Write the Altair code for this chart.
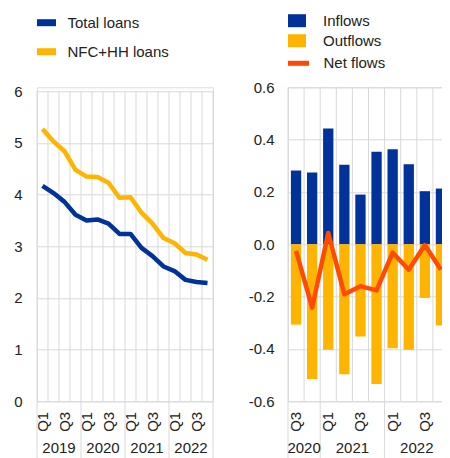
import altair as alt
import pandas as pd

FONT = "Liberation Sans"
GRID = "#d9d9d9"
TXT = "#222222"
BLUE = "#003299"
YELLOW = "#ffb400"
ORANGE = "#ff4b00"

# ---------------- data ----------------
left_periods = ["2019Q1", "2019Q2", "2019Q3", "2019Q4",
                "2020Q1", "2020Q2", "2020Q3", "2020Q4",
                "2021Q1", "2021Q2", "2021Q3", "2021Q4",
                "2022Q1", "2022Q2", "2022Q3", "2022Q4"]
total_loans = [4.17, 4.03, 3.86, 3.61, 3.50, 3.52, 3.44, 3.24,
               3.24, 2.97, 2.81, 2.61, 2.52, 2.35, 2.31, 2.29]
nfc_hh_loans = [5.27, 5.03, 4.84, 4.48, 4.35, 4.34, 4.23, 3.94,
                3.95, 3.65, 3.44, 3.16, 3.06, 2.87, 2.84, 2.74]
left_series = ["Total loans", "NFC+HH loans"]
left_years = ["2019", "2020", "2021", "2022"]
left_year_anchor = ["2019Q3", "2020Q3", "2021Q3", "2022Q3"]
left_year_starts = ["2019Q1", "2020Q1", "2021Q1", "2022Q1"]
left_ticks = [0, 1, 2, 3, 4, 5, 6]

right_periods = ["2020Q3", "2020Q4",
                 "2021Q1", "2021Q2", "2021Q3", "2021Q4",
                 "2022Q1", "2022Q2", "2022Q3", "2022Q4"]
inflows = [0.282, 0.274, 0.443, 0.304, 0.190, 0.354, 0.363, 0.306, 0.203, 0.213]
outflows = [-0.307, -0.515, -0.403, -0.497, -0.352, -0.534, -0.397, -0.403, -0.205, -0.310]
net_flows = [-0.025, -0.242, 0.043, -0.191, -0.160, -0.176, -0.032, -0.097, -0.003, -0.097]
right_series = ["Inflows", "Outflows"]
right_years = ["2020", "2021", "2022"]
right_year_anchor = ["2020Q4", "2021Q3", "2022Q3"]
right_year_starts = ["2020Q3", "2021Q1", "2022Q1"]
right_ticks = [-0.6, -0.4, -0.2, 0.0, 0.2, 0.4, 0.6]

LW, RW, H = 176, 161, 314
LEFT_TOP = 6 * 314 / 310  # left grid stops 4px below the panel top
PAD_LEFT, PAD_TOP = 29, 79.3

qlabel = ("(substring(datum.value,4)=='Q1' || substring(datum.value,4)=='Q3') "
          "? substring(datum.value,4) : ''")


def panel(periods, width, ymin, ymax, ydom_max, year_names, year_anchor, year_starts,
          main_layers, yaxis):
    xscale = alt.Scale(domain=periods, paddingInner=0, paddingOuter=0)
    yscale = alt.Scale(domain=[ymin, ydom_max], nice=False, zero=False)
    xaxis = alt.Axis(title=None, labelExpr=qlabel, labelAngle=-90, labelAlign="right",
                     labelBaseline="middle", labelPadding=10, ticks=False, domain=False,
                     grid=False, labelFontSize=15, labelFont=FONT, labelColor=TXT)
    pdf = pd.DataFrame({"period": periods})
    vgrid = alt.Chart(pdf).mark_rule(color=GRID, strokeWidth=1).encode(
        x=alt.X("period:O", scale=xscale, axis=xaxis, bandPosition=0),
        y=alt.datum(ymin, scale=yscale),
        y2=alt.datum(ymax),
    )
    vend = alt.Chart(pd.DataFrame({"period": [periods[-1]]})).mark_rule(
        color=GRID, strokeWidth=1).encode(
        x=alt.X("period:O", scale=xscale, axis=xaxis, bandPosition=1),
        y=alt.datum(ymin, scale=yscale),
        y2=alt.datum(ymax),
    )
    ygrid = alt.Chart(pd.DataFrame({"v": [ymin]})).mark_rule(opacity=0).encode(
        y=alt.Y("v:Q", scale=yscale, axis=yaxis)
    )
    ystart = alt.Chart(pd.DataFrame({"period": year_starts})).mark_rule(
        color=GRID, strokeWidth=1).encode(
        x=alt.X("period:O", scale=xscale, axis=xaxis, bandPosition=0),
        y=alt.value(H), y2=alt.value(H + 62),
    )
    yend = alt.Chart(pd.DataFrame({"period": [periods[-1]]})).mark_rule(
        color=GRID, strokeWidth=1).encode(
        x=alt.X("period:O", scale=xscale, axis=xaxis, bandPosition=1),
        y=alt.value(H), y2=alt.value(H + 62),
    )
    ytext = alt.Chart(pd.DataFrame({"period": year_anchor, "year": year_names})).mark_text(
        font=FONT, fontSize=15, color=TXT, baseline="alphabetic", align="center"
    ).encode(
        x=alt.X("period:O", scale=xscale, axis=xaxis, bandPosition=0),
        y=alt.value(H + 52),
        text="year:N",
    )
    layers = [ygrid, vgrid, vend, ystart, yend, ytext] + main_layers(xscale, yscale, xaxis)
    return alt.layer(*layers).properties(width=width, height=H).resolve_scale(
        fill="independent", stroke="independent")


# ---------------- left panel ----------------
left_df = pd.DataFrame({
    "period": left_periods * 2,
    "series": [left_series[0]] * len(left_periods) + [left_series[1]] * len(left_periods),
    "value": total_loans + nfc_hh_loans,
})

left_yaxis = alt.Axis(title=None, values=left_ticks, grid=True, gridColor=GRID,
                      domain=False, ticks=False, labelPadding=15, labelFontSize=15,
                      labelFont=FONT, labelColor=TXT)


def left_main(xscale, yscale, xaxis):
    lines = alt.Chart(left_df).mark_line(strokeWidth=4.5, strokeJoin="round").encode(
        x=alt.X("period:O", scale=xscale, axis=xaxis),
        y=alt.Y("value:Q", scale=yscale),
        stroke=alt.Stroke("series:N",
                          scale=alt.Scale(domain=left_series, range=[BLUE, YELLOW]),
                          legend=alt.Legend(title=None, orient="none", legendX=-3.5, legendY=-77.6,
                                            symbolType="stroke", symbolSize=361,
                                            symbolStrokeWidth=7, labelFontSize=15,
                                            labelFont=FONT, labelColor=TXT, labelOffset=8,
                                            rowPadding=1, padding=0, labelLimit=300)),
    )
    return [lines]


left = panel(left_periods, LW, 0, 6, LEFT_TOP, left_years, left_year_anchor, left_year_starts,
             left_main, left_yaxis)

# ---------------- right panel ----------------
bars_df = pd.DataFrame({
    "period": right_periods * 2,
    "series": [right_series[0]] * len(right_periods) + [right_series[1]] * len(right_periods),
    "value": inflows + outflows,
})
net_df = pd.DataFrame({"period": right_periods, "series": ["Net flows"] * len(right_periods),
                       "value": net_flows})

right_yaxis = alt.Axis(title=None, values=right_ticks, grid=True,
                       gridColor=GRID, domain=False, ticks=False, labelPadding=14,
                       labelFontSize=15, labelFont=FONT, labelColor=TXT,
                       labelExpr="replace(format(datum.value, '.1f'), '\u2212', '-')")


def right_main(xscale, yscale, xaxis):
    bars = alt.Chart(bars_df).mark_bar(width=alt.RelativeBandSize(0.64)).encode(
        x=alt.X("period:O", scale=xscale, axis=xaxis),
        y=alt.Y("value:Q", scale=yscale, stack=None),
        fill=alt.Fill("series:N",
                      scale=alt.Scale(domain=right_series, range=[BLUE, YELLOW]),
                      legend=alt.Legend(title=None, orient="none", legendX=0, legendY=-75.6,
                                        symbolType="M-1,-0.72H1V0.72H-1Z", symbolSize=324,
                                        symbolStrokeWidth=0, labelFontSize=15,
                                        labelFont=FONT, labelColor=TXT, labelOffset=17,
                                        rowPadding=3, padding=0, labelLimit=300)),
    )
    line = alt.Chart(net_df).mark_line(strokeWidth=4.5, strokeJoin="round").encode(
        x=alt.X("period:O", scale=xscale, axis=xaxis),
        y=alt.Y("value:Q", scale=yscale),
        stroke=alt.Stroke("series:N",
                          scale=alt.Scale(domain=["Net flows"], range=[ORANGE]),
                          legend=alt.Legend(title=None, orient="none", legendX=-2.5, legendY=-37,
                                            symbolType="stroke", symbolSize=441,
                                            symbolStrokeWidth=5, labelFontSize=15,
                                            labelFont=FONT, labelColor=TXT, labelOffset=12,
                                            padding=0, labelLimit=300)),
    )
    return [bars, line]


right = panel(right_periods, RW, -0.6, 0.6, 0.6, right_years, right_year_anchor,
              right_year_starts, right_main, right_yaxis)

chart = alt.hconcat(left, right, spacing=31).resolve_scale(
    fill="independent", stroke="independent", x="independent", y="independent"
).properties(
    autosize=alt.AutoSizeParams(type="none"),
    padding={"left": PAD_LEFT, "top": PAD_TOP, "right": 434 - PAD_LEFT,
             "bottom": 442 - PAD_TOP},
).configure_view(stroke=None).configure(font=FONT)

chart.save("out.html", embed_options={"renderer": "svg", "actions": False})
